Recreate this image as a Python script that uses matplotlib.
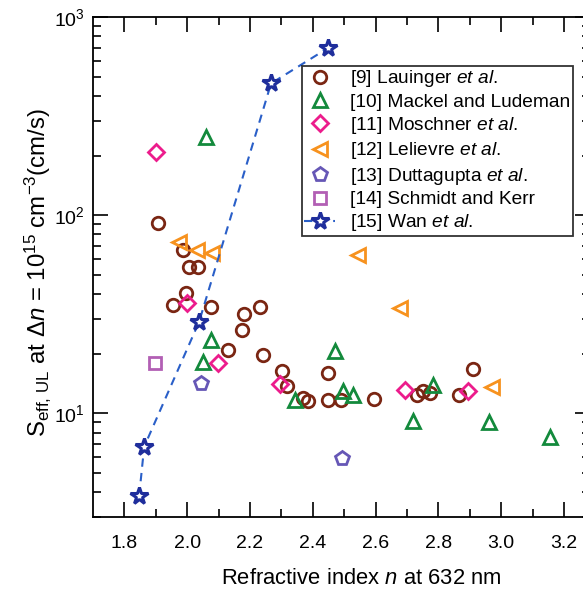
import matplotlib
matplotlib.use("Agg")
import matplotlib.pyplot as plt
from matplotlib.ticker import LogLocator, FixedLocator, NullFormatter

plt.rcParams['font.family'] = ['Liberation Sans', 'DejaVu Sans']
plt.rcParams['mathtext.fontset'] = 'custom'
plt.rcParams['mathtext.rm'] = 'Liberation Sans'
plt.rcParams['mathtext.it'] = 'Liberation Sans:italic'
plt.rcParams['mathtext.bf'] = 'Liberation Sans:bold'

# ---- data ----
lauinger_n = [1.908, 1.988, 2.007, 2.035, 1.996, 1.956, 2.076, 2.182, 2.232, 2.174,
              2.129, 2.242, 2.301, 2.317, 2.370, 2.386, 2.447, 2.447, 2.490, 2.596,
              2.731, 2.750, 2.773, 2.867, 2.911]
lauinger_s = [91.7, 66.7, 55.0, 55.0, 40.6, 35.2, 34.3, 31.7, 34.3, 26.4,
              20.9, 19.6, 16.4, 13.7, 11.9, 11.6, 15.9, 11.7, 11.7, 11.8,
              12.4, 12.9, 12.6, 12.4, 16.7]

mackel_n = [2.060, 2.076, 2.051, 2.471, 2.343, 2.497, 2.527, 2.784, 2.718, 2.962, 3.155]
mackel_s = [249, 23.4, 18.2, 20.7, 11.7, 13.0, 12.4, 13.9, 9.18, 9.08, 7.57]

moschner_n = [1.900, 1.998, 2.099, 2.296, 2.694, 2.895]
moschner_s = [209, 36.1, 17.9, 14.1, 13.1, 12.9]

lelievre_n = [1.975, 2.030, 2.078, 2.544, 2.678, 2.970]
lelievre_s = [73.4, 66.7, 64.3, 63.0, 34.0, 13.6]

duttagupta_n = [2.044, 2.493]
duttagupta_s = [14.3, 5.96]

schmidt_n = [1.897]
schmidt_s = [18.0]

wan_n = [1.847, 1.863, 2.038, 2.267, 2.447]
wan_s = [3.84, 6.79, 29.0, 462, 695]

labels = [r'[9] Lauinger $\mathit{et\ al.}$',
          '[10] Mackel and Ludeman',
          r'[11] Moschner $\mathit{et\ al.}$',
          r'[12] Lelievre $\mathit{et\ al.}$',
          r'[13] Duttagupta $\mathit{et\ al.}$',
          '[14] Schmidt and Kerr',
          r'[15] Wan $\mathit{et\ al.}$']

xticks = [1.8, 2.0, 2.2, 2.4, 2.6, 2.8, 3.0, 3.2]

# ---- figure ----
fig = plt.figure(figsize=(5.83, 5.90), dpi=100)
right_px = 590
ax = fig.add_axes([93/583, 1 - 517/590, (right_px - 93)/583, (517 - 17)/590])

ms = 9
mew = 2.0
ax.plot(lauinger_n, lauinger_s, 'o', ls='none', ms=ms, mfc='none', mec='#7a2613', mew=mew, label=labels[0])
ax.plot(mackel_n, mackel_s, '^', ls='none', ms=ms+1, mfc='none', mec='#138a3c', mew=mew, label=labels[1])
ax.plot(moschner_n, moschner_s, 'D', ls='none', ms=ms-1, mfc='none', mec='#ec1c8c', mew=mew, label=labels[2])
ax.plot(lelievre_n, lelievre_s, '<', ls='none', ms=ms+1, mfc='none', mec='#f7921e', mew=mew, label=labels[3])
ax.plot(duttagupta_n, duttagupta_s, 'p', ls='none', ms=ms+1, mfc='none', mec='#6657b6', mew=mew, label=labels[4])
ax.plot(schmidt_n, schmidt_s, 's', ls='none', ms=ms-1, mfc='none', mec='#b25fb4', mew=mew, label=labels[5])
ax.plot(wan_n, wan_s, ls=(0, (4, 3)), color='#2a5fc8', lw=1.5, marker='*', ms=13,
        mfc='white', mec='#1f2e9c', mew=2.2, label=labels[6])

ax.set_yscale('log')
ax.set_xlim(1.70, 1.70 + (right_px - 93)/314.0)
ax.set_ylim(3.0, 1000)

ax.xaxis.set_major_locator(FixedLocator(xticks))
ax.set_xticklabels([f'{t:.1f}' for t in xticks])
ax.xaxis.set_minor_locator(FixedLocator([1.9, 2.1, 2.3, 2.5, 2.7, 2.9, 3.1]))
ax.yaxis.set_major_locator(LogLocator(base=10, numticks=10))
ax.yaxis.set_minor_locator(LogLocator(base=10, subs=range(2, 10), numticks=20))
ax.yaxis.set_minor_formatter(NullFormatter())

ax.tick_params(which='both', direction='in', top=True, right=True, width=1.2,
               labelsize=14)
ax.tick_params(axis='x', which='both', pad=13)
ax.tick_params(axis='y', which='both', pad=6)
ax.tick_params(which='major', length=11)
ax.tick_params(which='minor', length=6)
for s in ax.spines.values():
    s.set_linewidth(1.3)

ax.set_xlabel(r'Refractive index $\mathit{n}$ at 632 nm', fontsize=15.8)
ax.xaxis.label.set_verticalalignment('center')
ax.xaxis.set_label_coords((361 - 93)/(right_px - 93), -(578 - 517)/500)
ax.set_ylabel(r'$\mathrm{S}_{\mathrm{eff,\,UL}}$ at $\Delta \mathit{n}$ = 10$^{15}$ cm$^{-3}$(cm/s)',
              fontsize=17.3)
ax.yaxis.label.set_verticalalignment('center')
ax.yaxis.set_label_coords(-(93 - 38)/(right_px - 93), (517 - 272)/500)

leg = ax.legend(loc='upper left',
                bbox_to_anchor=((302 - 93)/(right_px - 93), (517 - 66)/500),
                borderaxespad=0, frameon=True, fancybox=False, fontsize=13.8,
                handlelength=1.6, handletextpad=0.8, labelspacing=0.22,
                borderpad=0.12, edgecolor='black')
leg.get_frame().set_linewidth(1.3)

fig.savefig('out.png', dpi=100)
